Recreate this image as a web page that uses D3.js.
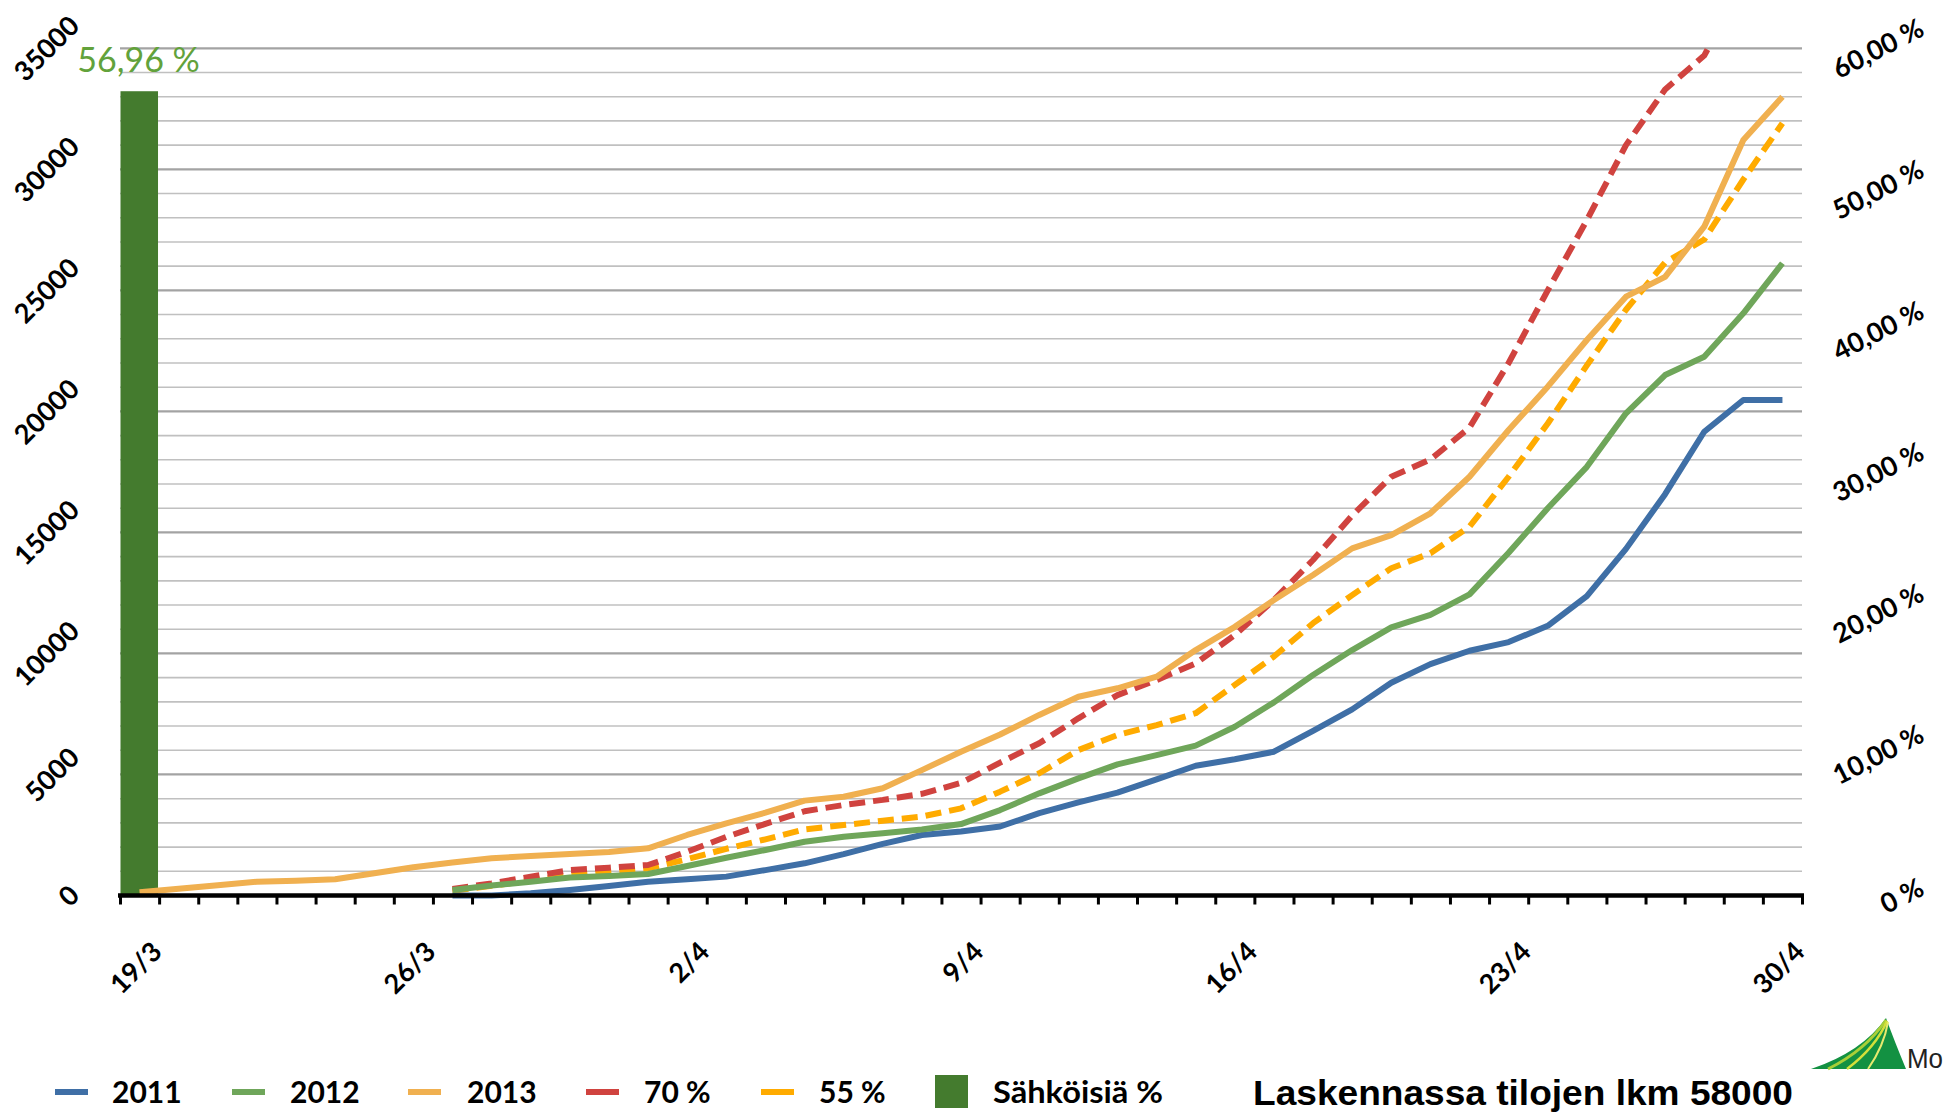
<!DOCTYPE html>
<html>
<head>
<meta charset="utf-8">
<script src="https://cdn.jsdelivr.net/npm/d3@7"></script>
<style>
html,body{margin:0;padding:0;background:#fff;}
svg{display:block;}
</style>
</head>
<body>
<svg id="chart" width="1946" height="1113"></svg>
<script>
// ---------- DATA ----------
const categories = ["19/3","20/3","21/3","22/3","23/3","24/3","25/3","26/3","27/3","28/3","29/3","30/3","31/3",
  "1/4","2/4","3/4","4/4","5/4","6/4","7/4","8/4","9/4","10/4","11/4","12/4","13/4","14/4","15/4","16/4",
  "17/4","18/4","19/4","20/4","21/4","22/4","23/4","24/4","25/4","26/4","27/4","28/4","29/4","30/4"];
const xTickLabels = ["19/3","26/3","2/4","9/4","16/4","23/4","30/4"];

const s2011 = [null,null,null,null,null,null,null,null,
  0,0,90,230,390,570,670,780,1050,1330,1710,2130,2500,2640,2850,3400,3850,4250,4800,5360,5630,5940,
  6800,7690,8790,9560,10110,10470,11140,12370,14320,16580,19160,20470,20470];
const s2012 = [null,null,null,null,null,null,null,null,
  230,410,570,740,810,890,1220,1560,1880,2220,2430,2570,2730,2950,3530,4220,4840,5420,5800,6190,6970,7980,
  9110,10140,11080,11590,12440,14160,16000,17710,19920,21500,22260,24050,26120];
const s2013 = [130,280,420,570,610,670,920,1170,1360,1540,1630,1710,1800,1950,2500,2980,3420,3920,4080,4430,
  5180,5940,6650,7460,8210,8560,9040,10140,11100,12210,13240,14340,14890,15790,17300,19230,21020,22950,
  24740,25560,27630,31210,33000];
const s70 = [null,null,null,null,null,null,null,null,
  270,500,780,1050,1150,1260,1810,2420,2960,3480,3740,3950,4200,4650,5490,6290,7320,8280,8900,9590,10760,
  12210,13860,15700,17300,18010,19330,22000,25000,27900,31000,33300,34700,37700,null];
const s55 = [null,null,null,null,null,null,null,null,
  190,400,620,830,980,1120,1500,1930,2320,2730,2910,3090,3260,3600,4290,5050,6010,6630,7040,7530,8700,
  9870,11250,12410,13520,14140,15240,17300,19500,21900,24200,26150,27100,29580,31900];

const barCategories = ["19/3"];
const barValues = [0.5696];

const leftTicks = [0,5000,10000,15000,20000,25000,30000,35000];
const rightTicks = [0,0.1,0.2,0.3,0.4,0.5,0.6];
const rightTickLabels = ["0 %","10,00 %","20,00 %","30,00 %","40,00 %","50,00 %","60,00 %"];

const seriesNames = ["2011","2012","2013","70 %","55 %"];
const barName = "Sähköisiä %";
const footnote = "Laskennassa tilojen lkm 58000";

// ---------- STYLE / LAYOUT ----------
const colors = {"2011":"#3f6fa6","2012":"#6fa65a","2013":"#f0b050","70 %":"#d0433f","55 %":"#ffab00"};
const dashed = {"70 %":true,"55 %":true};
const barColor = "#447b2e";
const labelGreen = "#62a23b";
const L = 120, R = 1802, T = 48.3, B = 895.5;
const axisFont = "Lato, 'Open Sans', sans-serif";
const axisSize = 27;

const svg = d3.select("#chart");
svg.append("rect").attr("width",1946).attr("height",1113).attr("fill","#fff");

const x = d3.scaleBand().domain(categories).range([L,R]).paddingInner(0).paddingOuter(0);
const bw = x.bandwidth();
const xc = c => x(c) + bw/2;
const y = d3.scaleLinear().domain([0,35000]).range([B,T]);
const y2 = d3.scaleLinear().domain([0,0.6]).range([B,T]);

// gridlines
const gridVals = d3.range(1000,35001,1000);
svg.append("g").selectAll("line").data(gridVals).join("line")
  .attr("x1",L).attr("x2",R)
  .attr("y1",d=>y(d)).attr("y2",d=>y(d))
  .attr("stroke",d=> d%5000===0 ? "#a3a3a3" : "#c0c0c0")
  .attr("stroke-width",d=> d%5000===0 ? 2.2 : 1.6);

// clip
svg.append("clipPath").attr("id","plotclip").append("rect")
  .attr("x",L-4).attr("y",T).attr("width",R-L+8).attr("height",B-T+6);

// bar (secondary axis)
svg.append("g").selectAll("rect").data(barValues).join("rect")
  .attr("x",(d,i)=>x(barCategories[i])+0.5)
  .attr("width",bw-1.6)
  .attr("y",d=>y2(d))
  .attr("height",d=>B-y2(d))
  .attr("fill",barColor);
svg.append("g").selectAll("text").data(barValues).join("text")
  .attr("x",(d,i)=>xc(barCategories[i])-1)
  .attr("y",d=>y2(d)-19)
  .attr("text-anchor","middle")
  .attr("font-family",axisFont).attr("font-size",34).attr("fill",labelGreen)
  .text(d=>d3.format(".2f")(d*100).replace(".",",")+" %");

// lines
const seriesData = {"2011":s2011,"2012":s2012,"2013":s2013,"70 %":s70,"55 %":s55};
const drawOrder = ["55 %","70 %","2011","2012","2013"];
const line = d3.line().defined(d=>d!=null).x((d,i)=>xc(categories[i])).y(d=>y(d));
const lg = svg.append("g").attr("clip-path","url(#plotclip)");
drawOrder.forEach(name=>{
  lg.append("path").datum(seriesData[name])
    .attr("d",line)
    .attr("fill","none")
    .attr("stroke",colors[name])
    .attr("stroke-width",6)
    .attr("stroke-linejoin","round")
    .attr("stroke-dasharray",dashed[name] ? "16,8" : null);
});

// x axis with tick marks at category boundaries
const xIdx = d3.scaleLinear().domain([0,categories.length]).range([L,R]);
const xAxis = svg.append("g").attr("transform",`translate(0,${B})`)
  .call(d3.axisBottom(xIdx).tickValues(d3.range(categories.length+1)).tickSize(9).tickSizeOuter(0).tickFormat(""));
xAxis.select(".domain").attr("stroke","#000").attr("stroke-width",4.3)
  .attr("d",`M${L-2},0H${R+2}`);
xAxis.selectAll(".tick line").attr("stroke","#000").attr("stroke-width",3);

// x tick labels
xTickLabels.forEach(lab=>{
  svg.append("text")
    .attr("font-family",axisFont).attr("font-weight",700).attr("font-size",axisSize)
    .attr("text-anchor","end").attr("fill","#000")
    .attr("transform",`translate(${xc(lab)+24},${B+58}) rotate(-45)`)
    .text(lab);
});

// left axis labels
const H = 19.5;
leftTicks.forEach(v=>{
  const t = svg.append("text")
    .attr("font-family",axisFont).attr("font-weight",700).attr("font-size",axisSize)
    .attr("text-anchor","end").attr("fill","#000").text(String(v));
  const len = t.node().getComputedTextLength();
  const th = Math.PI/4;
  const ey = y(v) - (len*Math.sin(th) - H*Math.cos(th))/2;
  t.attr("transform",`translate(81,${ey}) rotate(-45)`);
});

// right axis labels
rightTicks.forEach((v,i)=>{
  const t = svg.append("text")
    .attr("font-family",axisFont).attr("font-weight",700).attr("font-size",axisSize)
    .attr("text-anchor","end").attr("fill","#000").text(rightTickLabels[i]);
  const len = t.node().getComputedTextLength();
  const th = 27*Math.PI/180;
  const ey = y2(v) - (len*Math.sin(th) - H*Math.cos(th))/2;
  t.attr("transform",`translate(1926,${ey}) rotate(-27)`);
});

// legend
const legendItems = [
  {name:"2011", m0:55, tx:112},
  {name:"2012", m0:232, tx:290},
  {name:"2013", m0:408, tx:467},
  {name:"70 %", m0:586, tx:644},
  {name:"55 %", m0:761, tx:819}
];
const leg = svg.append("g");
legendItems.forEach(it=>{
  leg.append("line").attr("x1",it.m0).attr("x2",it.m0+33).attr("y1",1092).attr("y2",1092)
    .attr("stroke",colors[it.name]).attr("stroke-width",6);
  leg.append("text").attr("x",it.tx).attr("y",1103)
    .attr("font-family",axisFont).attr("font-weight",700).attr("font-size",30).attr("fill","#000")
    .text(it.name);
});
leg.append("rect").attr("x",935).attr("y",1075).attr("width",33).attr("height",33).attr("fill",barColor);
leg.append("text").attr("x",993).attr("y",1103)
  .attr("font-family",axisFont).attr("font-weight",700).attr("font-size",30).attr("fill","#000")
  .attr("textLength",170).attr("lengthAdjust","spacingAndGlyphs")
  .text(barName);

// footnote
svg.append("text").attr("x",1253).attr("y",1105)
  .attr("font-family","'Liberation Sans', Arial, sans-serif").attr("font-weight",700).attr("font-size",35)
  .attr("fill","#000").attr("textLength",540).attr("lengthAdjust","spacingAndGlyphs")
  .text(footnote);

// logo
const logo = svg.append("g");
logo.append("path").attr("d","M1811,1069 Q1862,1052 1886,1018 Q1894,1040 1906,1069 Z").attr("fill","#139142");
logo.append("path").attr("d","M1828,1069 Q1866,1050 1886,1020").attr("fill","none").attr("stroke","#a9cf38").attr("stroke-width",3);
logo.append("path").attr("d","M1847,1069 Q1876,1047 1887,1021").attr("fill","none").attr("stroke","#d3e03a").attr("stroke-width",2.5);
logo.append("path").attr("d","M1868,1069 Q1884,1046 1888,1022").attr("fill","none").attr("stroke","#e6ea6e").attr("stroke-width",2);
logo.append("text").attr("x",1907).attr("y",1068)
  .attr("font-family","'Liberation Sans', Arial, sans-serif").attr("font-size",27).attr("fill","#222")
  .attr("textLength",36).attr("lengthAdjust","spacingAndGlyphs")
  .text("Mo");
</script>
</body>
</html>
